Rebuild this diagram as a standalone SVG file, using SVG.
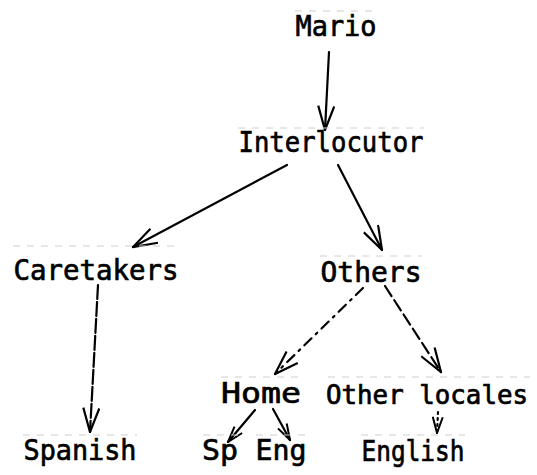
<svg xmlns="http://www.w3.org/2000/svg" width="537" height="475" viewBox="0 0 537 475">
<style>
text{font-family:"DejaVu Sans Mono","Liberation Mono",monospace;font-size:29px;fill:#000;stroke:#000;stroke-width:0.7;text-anchor:middle}
.g{stroke:#cfcfcf;stroke-width:1;stroke-dasharray:7 7;fill:none}
.c{stroke:#000;fill:none;stroke-width:2.2;stroke-linecap:round}
</style>
<defs>
<marker id="big" viewBox="0 0 26 18" refX="25" refY="9" markerWidth="26" markerHeight="18" markerUnits="userSpaceOnUse" orient="auto">
<path d="M1,1 L25,9 L1,17" fill="none" stroke="#000" stroke-width="2.2"/>
</marker>
<marker id="small" viewBox="0 0 18 12" refX="17" refY="6" markerWidth="18" markerHeight="12" markerUnits="userSpaceOnUse" orient="auto">
<path d="M1,1 L17,6 L1,11" fill="none" stroke="#000" stroke-width="2"/>
</marker>
</defs>
<rect width="537" height="475" fill="#fff"/>
<g id="connectors">
<path class="c" d="M329,52 L325,130" marker-end="url(#big)"/>
<path class="c" d="M287,165 L133,247" marker-end="url(#big)"/>
<path class="c" d="M338,165 L382,250" marker-end="url(#big)"/>
<path class="c" d="M98,285 L90,432" stroke-dasharray="14 3" marker-end="url(#big)"/>
<path class="c" d="M363,288 L275,374" stroke-dasharray="10 6 2 6" marker-end="url(#big)"/>
<path class="c" d="M385,286 L441,372" stroke-dasharray="12 5" marker-end="url(#big)"/>
<path class="c" d="M255,410 L228,442" marker-end="url(#small)"/>
<path class="c" d="M273,409 L290,440" marker-end="url(#small)"/>
<path class="c" d="M438,412 L437,433" stroke-dasharray="2 4" marker-end="url(#small)"/>
</g>
<g id="mario"><path class="g" d="M295,11 H377"/><text x="336" y="36" textLength="81" lengthAdjust="spacingAndGlyphs">Mario</text></g>
<g id="interlocutor"><path class="g" d="M238,128 H424"/><text x="331" y="152" textLength="185" lengthAdjust="spacingAndGlyphs">Interlocutor</text></g>
<g id="caretakers"><path class="g" d="M13,246 H179"/><text x="96" y="280" textLength="165" lengthAdjust="spacingAndGlyphs">Caretakers</text></g>
<g id="others"><path class="g" d="M320,256 H422"/><text x="371" y="282" textLength="101" lengthAdjust="spacingAndGlyphs">Others</text></g>
<g id="home"><path class="g" d="M221,377 H302"/><text x="261" y="403" textLength="80" lengthAdjust="spacingAndGlyphs">Home</text></g>
<g id="other-locales"><path class="g" d="M328,377 H530"/><text x="427" y="404" style="font-size:26px" textLength="202" lengthAdjust="spacingAndGlyphs">Other locales</text></g>
<g id="spanish"><path class="g" d="M23,435 H137"/><text x="80" y="460" textLength="113" lengthAdjust="spacingAndGlyphs">Spanish</text></g>
<g id="sp"><path class="g" d="M203,435 H239"/><text x="220" y="460" textLength="36" lengthAdjust="spacingAndGlyphs">Sp</text></g>
<g id="eng"><path class="g" d="M256,435 H306"/><text x="281" y="460" textLength="51" lengthAdjust="spacingAndGlyphs">Eng</text></g>
<g id="english"><path class="g" d="M361,435 H465"/><text x="413" y="461" textLength="103" lengthAdjust="spacingAndGlyphs">English</text></g>
</svg>
